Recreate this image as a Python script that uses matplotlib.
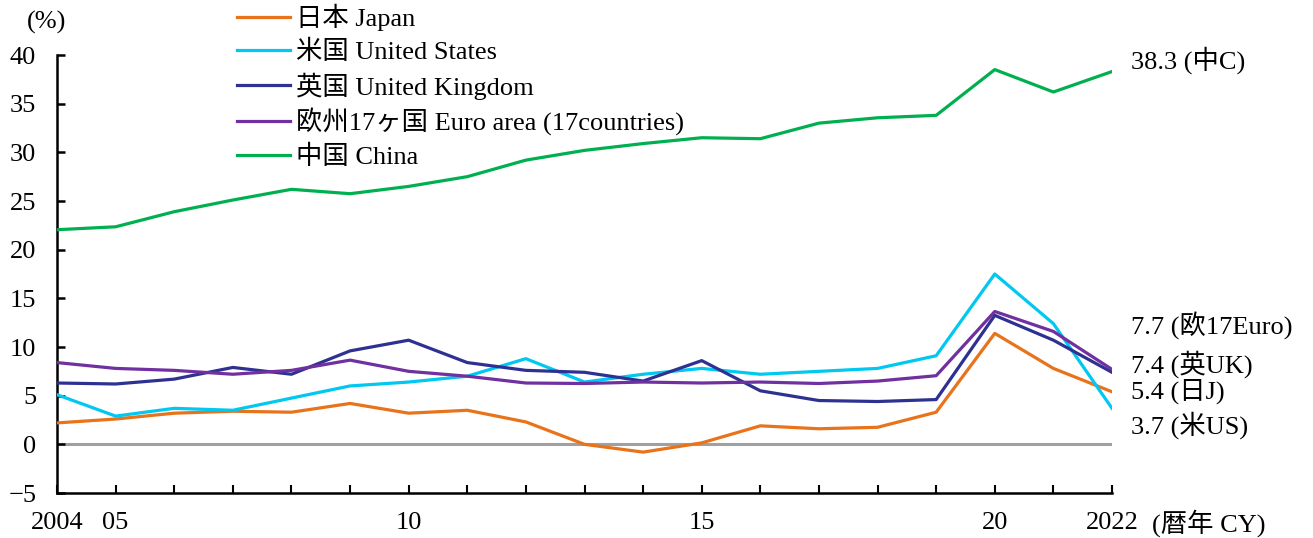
import matplotlib
matplotlib.use('Agg')
import matplotlib.pyplot as plt

plt.rcParams['font.family'] = ['Liberation Serif', 'Noto Sans CJK JP']
plt.rcParams['font.size'] = 19

years = list(range(2004, 2023))

japan = [2.2, 2.6, 3.2, 3.4, 3.3, 4.2, 3.2, 3.5, 2.3, 0.0, -0.8, 0.15, 1.9, 1.6, 1.75, 3.3, 11.4, 7.8, 5.4]
us = [5.1, 2.9, 3.7, 3.5, 4.75, 6.0, 6.4, 7.0, 8.8, 6.4, 7.2, 7.8, 7.2, 7.5, 7.8, 9.1, 17.5, 12.4, 3.7]
uk = [6.3, 6.2, 6.7, 7.9, 7.2, 9.6, 10.7, 8.4, 7.6, 7.4, 6.5, 8.6, 5.5, 4.5, 4.4, 4.6, 13.25, 10.7, 7.4]
euro = [8.4, 7.8, 7.6, 7.2, 7.6, 8.65, 7.5, 7.0, 6.3, 6.25, 6.4, 6.3, 6.4, 6.25, 6.5, 7.05, 13.65, 11.6, 7.7]
china = [22.05, 22.35, 23.9, 25.1, 26.2, 25.75, 26.5, 27.5, 29.2, 30.2, 30.9, 31.5, 31.4, 33.0, 33.55, 33.8, 38.5, 36.2, 38.3]

names = ['日本 Japan', '米国 United States', '英国 United Kingdom',
         '欧州17ヶ国 Euro area (17countries)', '中国 China']
colors = ['#E8731A', '#00C8F0', '#2E3192', '#7030A0', '#00B050']

end_labels = ['5.4 (日J)', '3.7 (米US)', '7.4 (英UK)', '7.7 (欧17Euro)', '38.3 (中C)']
end_label_y = [5.4, 1.95, 8.2, 12.2, 39.5]

xtick_labels = ['2004', '05', '', '', '', '', '10', '', '', '', '',
                '15', '', '', '', '', '20', '', '2022']

fig = plt.figure(figsize=(13.13, 5.38), dpi=100)
ax = fig.add_axes([57 / 1313, 1 - 493 / 538, (1112 - 57) / 1313, (493 - 55) / 538])

ax.axhline(0, color='#A0A0A0', lw=2.2, zorder=1)

series = [japan, us, uk, euro, china]
for vals, name, c in zip(series, names, colors):
    ax.plot(years, vals, color=c, lw=2.3, label=name, zorder=3)

for txt, y in zip(end_labels, end_label_y):
    ax.text(2022.33, y, txt, va='center', ha='left', clip_on=False)

ax.set_xlim(2004, 2022)
ax.set_ylim(-5, 40)
ax.set_yticks(range(-5, 41, 5))
ax.set_xticks(years)
ax.set_xticklabels(xtick_labels)

for s in ['top', 'right']:
    ax.spines[s].set_visible(False)
for s in ['left', 'bottom']:
    ax.spines[s].set_linewidth(1.8)
    ax.spines[s].set_color('black')

ax.tick_params(axis='y', direction='in', length=6, width=1.8, pad=15)
ax.tick_params(axis='x', direction='in', length=6, width=1.5, pad=14)

fig.text(47 / 1313, 1 - 22 / 538, '(%)', ha='center', va='center')
fig.text(1152 / 1313, 1 - 523 / 538, '(暦年 CY)', ha='left', va='center')

fig.legend(loc='upper left', bbox_to_anchor=(237 / 1313, 1 - 4 / 538),
           frameon=False, borderpad=0, borderaxespad=0,
           handlelength=2.0, handletextpad=0.25, labelspacing=0.32)

fig.savefig('out.png', dpi=100)
